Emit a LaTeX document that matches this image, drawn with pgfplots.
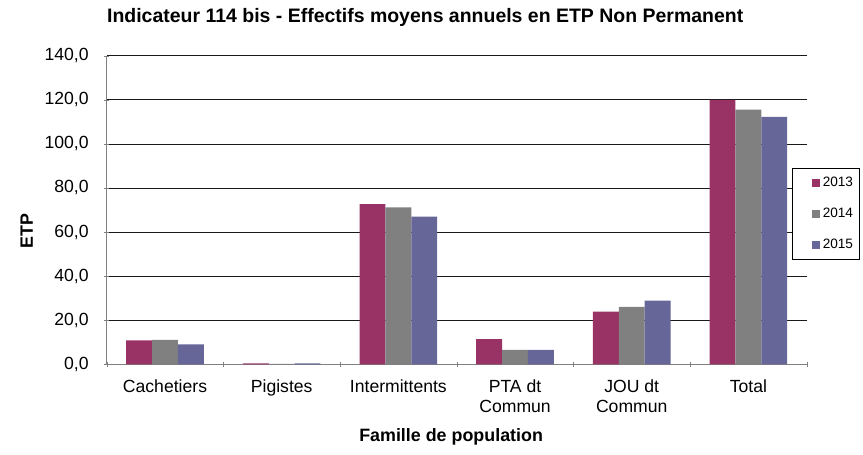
\documentclass[border=0pt]{standalone}
\usepackage{fontspec}
\setmainfont{Liberation Sans}
\usepackage{pgfplots}
\pgfplotsset{compat=1.18}
\definecolor{c2013}{HTML}{993366}
\definecolor{c2014}{HTML}{808080}
\definecolor{c2015}{HTML}{666699}

\begin{document}
\begin{tikzpicture}
\begin{axis}[
    at={(0,0)}, anchor=south west,
    scale only axis,
    width=525pt, height=231.45pt,
    ybar=0pt, bar width=19.4pt,
    xmin=-0.5, xmax=5.5,
    ymin=0, ymax=140,
    xtick={0,...,5},
    xticklabels={Cachetiers, Pigistes, Intermittents, {PTA dt\\Commun}, {JOU dt\\Commun}, Total},
    minor xtick={-0.5,0.5,...,5.5},
    major x tick style={draw=none},
    minor tick length=4pt,
    ytick={0,20,...,140},
    major tick length=4pt,
    tick align=outside,
    axis lines=left,
    axis line style={c2014, -},
    tick style={c2014},
    ymajorgrids,
    major grid style={black!90, line width=0.5pt},
    tick label style={font=\fontsize{13.2}{15}\selectfont},
    yticklabel style={xshift=-8pt, /pgf/number format/.cd, fixed, fixed zerofill, precision=1, use comma, assume math mode=true},
    xticklabel style={align=center, yshift=-6pt},
    ylabel={\textbf{ETP}},
    ylabel style={at={(axis description cs:-0.1143,0.432)}, anchor=center, font=\fontsize{13.4}{15}\selectfont},
    xlabel={\textbf{Famille de population}},
    xlabel style={at={(axis description cs:0.492,-0.2356)}, anchor=center, font=\fontsize{13.4}{15}\selectfont},
    title={\textbf{Indicateur 114 bis - Effectifs moyens annuels en ETP Non Permanent}},
    title style={at={(axis description cs:0.455,1.1027)}, anchor=base, yshift=-5pt, font=\fontsize{14.6}{17}\selectfont},
    legend style={at={(0.9786,0.6357)}, anchor=north west, draw=black, fill=white,
        font=\fontsize{10.2}{12}\selectfont, row sep=10.5pt, inner xsep=3pt, inner ysep=4.5pt, line width=0.5pt},
    legend image code/.code={\path (0pt,0pt); \fill[#1] (12pt,-3pt) rectangle (18pt,3pt);},
    legend cell align=left,
]
\addplot[fill=c2013, draw=none] coordinates {(0,10.8) (1,0.4) (2,72.7) (3,11.4) (4,23.9) (5,120.0)};
\addlegendentry{2013}
\addplot[fill=c2014, draw=none] coordinates {(0,11.1) (1,0.2) (2,71.2) (3,6.6) (4,26.0) (5,115.5)};
\addlegendentry{2014}
\addplot[fill=c2015, draw=none] coordinates {(0,9.0) (1,0.4) (2,67.0) (3,6.6) (4,28.9) (5,112.2)};
\addlegendentry{2015}
\end{axis}
\pgfresetboundingbox
\path (-80pt,-68pt) rectangle (567.2pt,273.2pt);
\end{tikzpicture}
\end{document}
